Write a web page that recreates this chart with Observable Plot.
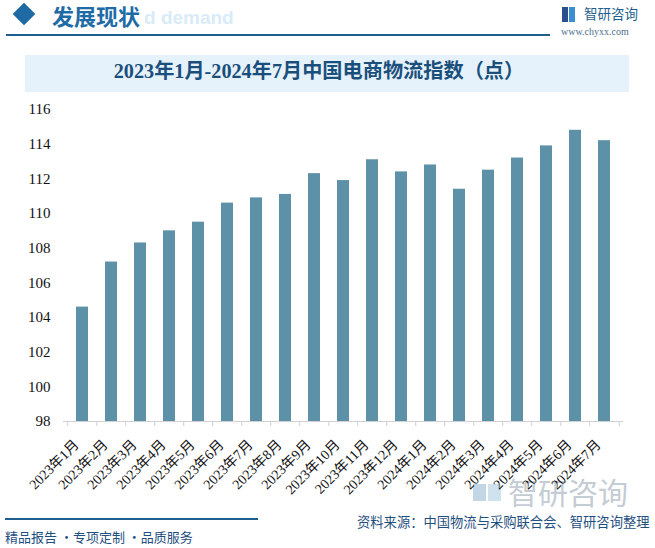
<!DOCTYPE html>
<html>
<head>
<meta charset="utf-8">
<script src="https://cdn.jsdelivr.net/npm/d3@7"></script>
<script src="https://cdn.jsdelivr.net/npm/@observablehq/plot@0.6"></script>
<style>
  html, body { margin: 0; padding: 0; background: #fff; }
  #root { position: relative; width: 655px; height: 548px; overflow: hidden; background: #fff; font-family: "Noto Sans CJK SC", sans-serif; }
  .abs { position: absolute; white-space: nowrap; }
</style>
</head>
<body>
<div id="root">
  <div class="abs" style="left:144px;top:6px;font:bold 19px 'Liberation Sans',Arial,sans-serif;color:#d9ebf8;line-height:24px;">d demand</div>
  <div class="abs" style="left:16px;top:6px;width:16px;height:16px;background:#1d6aa5;transform:rotate(45deg);"></div>
  <div class="abs" style="left:52px;top:0px;font:bold 22px 'Noto Sans CJK SC',sans-serif;color:#1e6ba6;line-height:30px;">发展现状</div>
  <div class="abs" style="left:6px;top:34px;width:544px;height:2px;background:#1f5f8f;"></div>
  <div class="abs" style="left:562px;top:7px;width:13px;height:15px;">
    <div class="abs" style="left:0;top:0;width:6px;height:15px;background:#2a4f8c;"></div>
    <div class="abs" style="left:7px;top:0;width:6px;height:15px;background:#3a8fd0;"></div>
  </div>
  <div class="abs" style="left:584px;top:3px;font:13.5px 'Noto Sans CJK SC',sans-serif;color:#1f5f8f;line-height:20px;">智研咨询</div>
  <div class="abs" style="left:561px;top:26px;font:10px 'Liberation Serif',serif;color:#4a6e8e;line-height:12px;">www.chyxx.com</div>

  <div class="abs" style="left:25px;top:55px;width:604px;height:37px;background:#e6f2fb;"></div>
  <div class="abs" style="left:0;top:55px;width:638px;height:37px;line-height:37px;text-align:center;font:bold 20.2px 'Liberation Serif','Noto Sans CJK SC',serif;color:#1b4f7b;">2023年1月-2024年7月中国电商物流指数（点）</div>

  <div class="abs" style="left:473px;top:484px;width:13px;height:17px;background:#c3d6e6;"></div>
  <div class="abs" style="left:488px;top:484px;width:13px;height:17px;background:#cfe2f0;"></div>
  <div class="abs" style="left:508px;top:476px;font:30px 'Noto Sans CJK SC',sans-serif;color:#c4ccd4;line-height:30px;">智研咨询</div>

  <div id="chart" class="abs" style="left:0;top:95px;"></div>

  <div class="abs" style="left:5px;top:518px;width:253px;height:2px;background:#1f5f8f;"></div>
  <div class="abs" style="left:357px;top:513px;font:13.3px 'Noto Sans CJK SC',sans-serif;color:#1f4f7f;line-height:18px;">资料来源：中国物流与采购联合会、智研咨询整理</div>
  <div class="abs" style="left:5px;top:528px;font:13px 'Noto Sans CJK SC',sans-serif;color:#1f4f7f;line-height:18px;">精品报告 ·专项定制 ·品质服务</div>
</div>
<script>
const months = ["2023年1月","2023年2月","2023年3月","2023年4月","2023年5月","2023年6月","2023年7月","2023年8月","2023年9月","2023年10月","2023年11月","2023年12月","2024年1月","2024年2月","2024年3月","2024年4月","2024年5月","2024年6月","2024年7月"];
const values = [104.6,107.2,108.3,109.0,109.5,110.6,110.9,111.1,112.3,111.9,113.1,112.4,112.8,111.4,112.5,113.2,113.9,114.8,114.2];
const yTicks = [98,100,102,104,106,108,110,112,114,116];

const data = months.map((m, i) => ({month: m, value: values[i]}));

const W = 655, H = 420, ML = 63, MR = 32, MT = 14, MB = 94;
const step = (W - ML - MR) / months.length;
const serif = "'Liberation Serif','Noto Sans CJK SC',serif";

const chart = Plot.plot({
  width: W,
  height: H,
  marginLeft: ML,
  marginRight: MR,
  marginTop: MT,
  marginBottom: MB,
  style: {background: "transparent", fontFamily: serif, overflow: "visible"},
  x: {domain: months, paddingInner: 0.59, paddingOuter: 0.295, axis: null, label: null},
  y: {domain: [yTicks[0], yTicks[yTicks.length - 1]], axis: null, label: null},
  marks: [
    Plot.barY(data, {x: "month", y1: yTicks[0], y2: "value", fill: "#5d91a7"}),
    Plot.ruleY([yTicks[0]], {stroke: "#d0d0d0", strokeWidth: 1}),
    Plot.axisX({ticks: months, tickSize: 5, text: null, label: null, stroke: "#d0d0d0", strokeOpacity: 1, dx: -step / 2}),
    Plot.axisX({ticks: [months[months.length - 1]], tickSize: 5, text: null, label: null, stroke: "#d0d0d0", strokeOpacity: 1, dx: step / 2}),
    Plot.text(months, {x: d => d, text: d => d, frameAnchor: "bottom", rotate: -45, textAnchor: "end", lineAnchor: "middle", dx: -6, dy: 21, fontSize: 14, fontFamily: serif, fill: "#111"}),
    Plot.axisY({ticks: yTicks, tickSize: 0, tickPadding: 13, label: null, fontSize: 15, fontFamily: serif, color: "#111"})
  ]
});
document.getElementById("chart").appendChild(chart);
</script>
</body>
</html>
